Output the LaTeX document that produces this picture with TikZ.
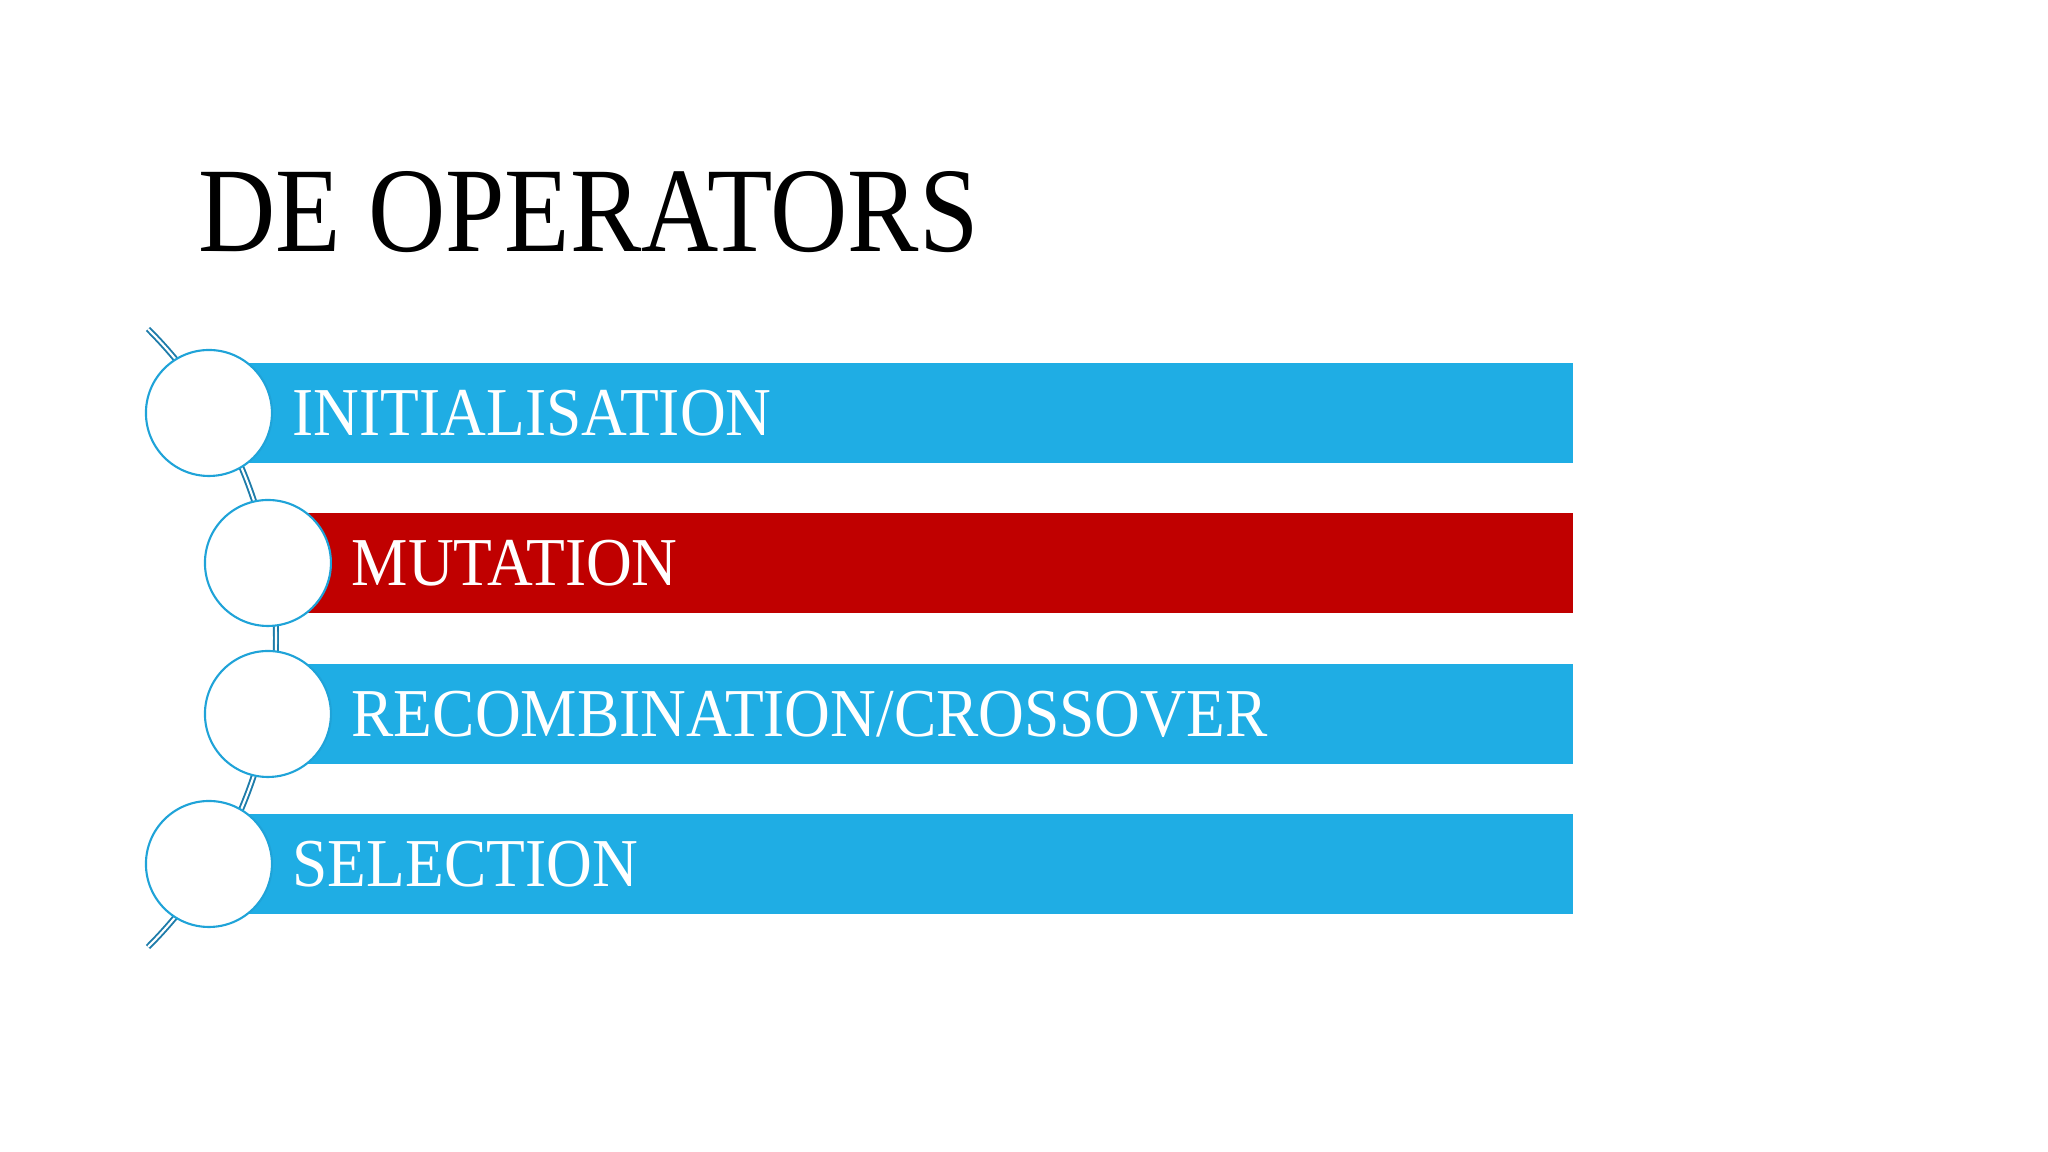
\documentclass[tikz,border=0pt]{standalone}
\usepackage{fontspec}
\setmainfont{Liberation Serif}
\newfontfamily\barfont[FakeStretch=0.925]{Liberation Serif}
\newfontfamily\titlefont[FakeStretch=0.885]{Liberation Serif}
\usetikzlibrary{positioning}
\definecolor{opblue}{HTML}{1FADE4}
\definecolor{opred}{HTML}{C00000}
\definecolor{ringblue}{HTML}{1FA3D8}
\definecolor{linkblue}{HTML}{1E7CAA}
\tikzset{%
  % Specifications for style of nodes:
          bead/.style = {circle, draw=ringblue, line width=0.6pt, fill=white,
                         minimum size=1.26cm, inner sep=0pt},
           bar/.style = {rectangle, fill=opblue, minimum height=1cm,
                         inner xsep=0.44cm, inner ysep=0pt, align=left,
                         text height=0.45cm, text depth=0pt, text=white,
                         anchor=west, font=\barfont\fontsize{19.5}{22}\selectfont},
        hotbar/.style = {bar, fill=opred},
         chain/.style = {draw=linkblue, line width=0.55pt, double=white,
                         double distance=0.6pt},
}

\begin{document}
\begin{tikzpicture}[node distance=-0.25cm]
    \useasboundingbox (0,0) rectangle (20.48,11.52);

    \node (title) [anchor=base west, inner sep=0pt,
                   font=\titlefont\fontsize{34.4}{38}\selectfont] at (1.98,9.00) {DE OPERATORS};

    \coordinate (top) at (1.48,8.23);
    \draw[chain] (top) arc[start angle=45, end angle=-45, radius=4.37cm] coordinate (bottom);

    \node (initbar)  [bar, text width=12.36cm]    at (2.48,7.39) {INITIALISATION};
    \node (mutbar)   [hotbar, text width=11.77cm] at (3.07,5.89) {MUTATION};
    \node (crossbar) [bar, text width=11.77cm]    at (3.07,4.38) {RECOMBINATION/CROSSOVER};
    \node (selbar)   [bar, text width=12.36cm]    at (2.48,2.88) {SELECTION};

    \node (init)   [bead, left=of initbar]  {};
    \node (mutate) [bead, left=of mutbar]   {};
    \node (cross)  [bead, left=of crossbar] {};
    \node (select) [bead, left=of selbar]   {};

\end{tikzpicture}
\end{document}
